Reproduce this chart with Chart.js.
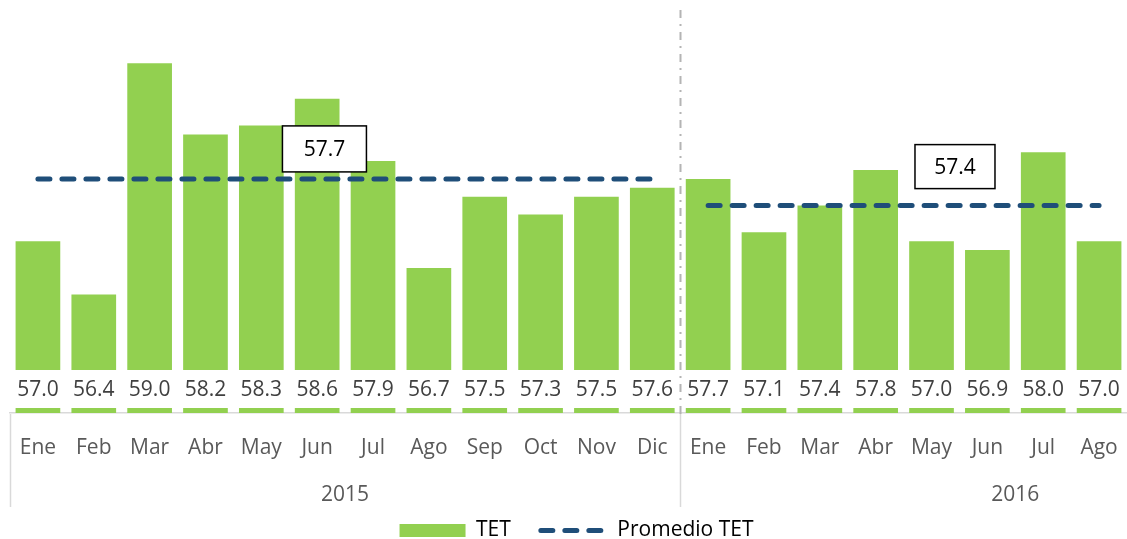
<!DOCTYPE html>
<html lang="es">
<head>
<meta charset="utf-8">
<title>TET mensual</title>
<script src="https://cdn.jsdelivr.net/npm/chart.js@4.4.1/dist/chart.umd.min.js"></script>
<style>
  html, body { margin: 0; padding: 0; background: #fff; }
</style>
</head>
<body>
<canvas id="tetChart" width="1127" height="539"></canvas>
<script>
const months = ['Ene', 'Feb', 'Mar', 'Abr', 'May', 'Jun', 'Jul', 'Ago', 'Sep', 'Oct', 'Nov', 'Dic',
                'Ene', 'Feb', 'Mar', 'Abr', 'May', 'Jun', 'Jul', 'Ago'];
const years = ['2015', '2016'];
const tet = [57.0, 56.4, 59.0, 58.2, 58.3, 58.6, 57.9, 56.7, 57.5, 57.3, 57.5, 57.6,
             57.7, 57.1, 57.4, 57.8, 57.0, 56.9, 58.0, 57.0];
const promedio2015 = [57.7, 57.7, 57.7, 57.7, 57.7, 57.7, 57.7, 57.7, 57.7, 57.7, 57.7, 57.7,
                      null, null, null, null, null, null, null, null];
const promedio2016 = [null, null, null, null, null, null, null, null, null, null, null, null,
                      57.4, 57.4, 57.4, 57.4, 57.4, 57.4, 57.4, 57.4];

const GREEN = '#92D050';
const BLUE = '#1F4E79';
const FONT = "'Open Sans', sans-serif";
const BOTTOM_SPACE = 126;   // axis rows + legend under the plot

// value labels sit in a white strip just above the axis
const bandLabels = {
  id: 'bandLabels',
  afterDatasetsDraw(chart) {
    const {ctx, chartArea, scales: {x}} = chart;
    const bottom = chartArea.bottom - 5;
    const top = bottom - 38;
    ctx.save();
    ctx.fillStyle = '#ffffff';
    ctx.fillRect(chartArea.left, top, chartArea.right - chartArea.left, bottom - top);
    ctx.fillStyle = '#404040';
    ctx.font = '21px ' + FONT;
    ctx.textAlign = 'center';
    ctx.textBaseline = 'middle';
    tet.forEach((v, i) => ctx.fillText(v.toFixed(1), x.getPixelForValue(i), (top + bottom) / 2 + 1));
    ctx.restore();
  }
};

// dash-dot divider between the two years
const yearDivider = {
  id: 'yearDivider',
  afterDatasetsDraw(chart) {
    const {ctx, chartArea, scales: {x}} = chart;
    ctx.save();
    ctx.strokeStyle = '#B4B4B4';
    ctx.lineWidth = 2;
    ctx.setLineDash([8, 6, 2, 6]);
    for (let g = 1; g < years.length; g++) {
      const px = Math.round(x.getPixelForValue(g * 12 - 0.5)) + 0.5;
      ctx.beginPath();
      ctx.moveTo(px, chartArea.top + 10);
      ctx.lineTo(px, chartArea.bottom + 6);
      ctx.stroke();
    }
    ctx.restore();
  }
};

// boxed average labels above each dashed line
const avgBoxes = {
  id: 'avgBoxes',
  afterDatasetsDraw(chart, args, opts) {
    const {ctx, scales: {x, y}} = chart;
    ctx.save();
    ctx.font = '21px ' + FONT;
    ctx.textAlign = 'center';
    ctx.textBaseline = 'middle';
    opts.boxes.forEach(b => {
      const value = chart.data.datasets[b.dataset].data.find(v => v !== null);
      const cx = x.getPixelForValue(b.at);
      const cy = y.getPixelForValue(value) - b.rise;
      ctx.fillStyle = '#ffffff';
      ctx.fillRect(cx - b.w / 2, cy - b.h / 2, b.w, b.h);
      ctx.strokeStyle = '#000000';
      ctx.lineWidth = 1.5;
      ctx.strokeRect(cx - b.w / 2, cy - b.h / 2, b.w, b.h);
      ctx.fillStyle = '#000000';
      ctx.fillText(value.toFixed(1), cx, cy + 1);
    });
    ctx.restore();
  }
};

// year row under the month labels, with solid separators
const yearGroups = {
  id: 'yearGroups',
  afterDraw(chart) {
    const {ctx, chartArea, scales: {x}} = chart;
    ctx.save();
    ctx.strokeStyle = '#D9D9D9';
    ctx.lineWidth = 1.5;
    years.forEach((yr, g) => {
      const px = Math.round(x.getPixelForValue(g * 12 - 0.5)) + 0.5;
      ctx.beginPath();
      ctx.moveTo(px, chartArea.bottom + 1);
      ctx.lineTo(px, chartArea.bottom + 94);
      ctx.stroke();
    });
    ctx.fillStyle = '#595959';
    ctx.font = '21px ' + FONT;
    ctx.textAlign = 'center';
    ctx.textBaseline = 'middle';
    years.forEach((yr, g) => {
      ctx.fillText(yr, x.getPixelForValue(g * 12 + 5.5), chartArea.bottom + 82);
    });
    ctx.restore();
  }
};

// put the legend row below the year row
const legendPlacement = {
  id: 'legendPlacement',
  afterLayout(chart) {
    const lg = chart.legend;
    const h = lg.height;
    lg.top = chart.chartArea.bottom + 77;
    lg.bottom = lg.top + h;
    lg.left += 8;
    lg.right += 8;
  }
};

const ctx = document.getElementById('tetChart');

new Chart(ctx, {
  type: 'bar',
  data: {
    labels: months,
    datasets: [
      {
        label: 'TET',
        data: tet,
        backgroundColor: GREEN,
        borderWidth: 0,
        barPercentage: 0.8,
        categoryPercentage: 1,
        order: 1
      },
      {
        type: 'line',
        label: 'Promedio TET',
        data: promedio2015,
        borderColor: BLUE,
        borderWidth: 5,
        borderDash: [12, 12],
        borderCapStyle: 'round',
        pointRadius: 0,
        fill: false,
        order: 0
      },
      {
        type: 'line',
        label: 'Promedio TET',
        data: promedio2016,
        borderColor: BLUE,
        borderWidth: 5,
        borderDash: [12, 12],
        borderCapStyle: 'round',
        pointRadius: 0,
        fill: false,
        order: 0
      }
    ]
  },
  options: {
    responsive: false,
    animation: false,
    layout: {
      padding: { left: 10, right: 0, top: 0, bottom: 0 }
    },
    scales: {
      x: {
        offset: true,
        grid: { display: false, drawTicks: true, tickLength: 22 },
        border: { display: true, color: '#D9D9D9', width: 1.5 },
        ticks: {
          color: '#595959',
          font: { family: FONT, size: 21 },
          padding: 0,
          maxRotation: 0,
          autoSkip: false
        },
        afterFit(scale) {
          scale.height = Math.max(0, BOTTOM_SPACE - scale.chart.legend.height);
        }
      },
      y: {
        display: false,
        min: 55.07,
        max: 59.71
      }
    },
    plugins: {
      tooltip: { enabled: false },
      legend: {
        position: 'bottom',
        labels: {
          usePointStyle: true,
          pointStyleWidth: 66,
          boxHeight: 13,
          padding: 30,
          color: '#595959',
          font: { family: FONT, size: 21 },
          generateLabels: () => [
            { text: 'TET', pointStyle: 'rect', fillStyle: GREEN, strokeStyle: GREEN, lineWidth: 0, datasetIndex: 0 },
            { text: 'Promedio TET', pointStyle: 'line', fillStyle: 'rgba(0,0,0,0)', strokeStyle: BLUE,
              lineWidth: 5, lineDash: [12, 12], lineCap: 'round', datasetIndex: 1 }
          ]
        }
      },
      avgBoxes: {
        boxes: [
          { dataset: 1, at: 5.13, rise: 30, w: 84, h: 46 },
          { dataset: 2, at: 16.42, rise: 39, w: 80, h: 44 }
        ]
      }
    }
  },
  plugins: [bandLabels, yearDivider, avgBoxes, yearGroups, legendPlacement]
});
</script>
</body>
</html>
